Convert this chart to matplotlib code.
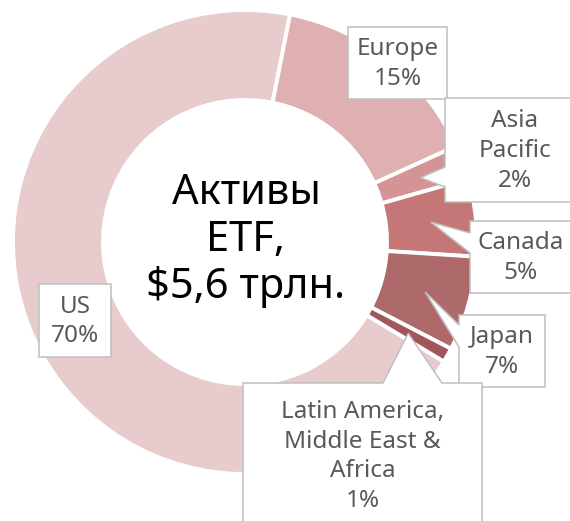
import numpy as np
import matplotlib

matplotlib.use("Agg")
import matplotlib.pyplot as plt
from matplotlib.patches import Polygon

# ETF assets by region (share of total, %)
regions = ["US", "Europe", "Asia\nPacific", "Canada", "Japan",
           "Latin America,\nMiddle East &\nAfrica"]
shares = [69.5, 15.1, 2.4, 5.4, 6.6, 1.0]
colors = ["#E8CBCC", "#DEB0B1", "#D49495", "#C57778", "#AE6A6B", "#A0565A"]
center_text = "Активы\nETF,\n$5,6 трлн."

# layout, in pixels of the 570x521 canvas (y downwards)
W, H = 570, 521
CX, CY = 245, 242
R_OUT, R_IN = 232, 142
R_TIP = 187
# label boxes: (x0, y0, x1, y1), pointer side, pointer base on that side
boxes = [
    ((39, 284, 111, 357), None, None),
    ((348, 27, 447, 99), None, None),
    ((445, 98, 585, 202), "left", (167, 187)),
    ((470, 221, 572, 293), "left", (233, 253)),
    ((459, 315, 545, 387), "left", (325, 347)),
    ((243, 383, 482, 528), "top", (383, 442)),
]

TXT = "#595959"
EDGE = "#BFBFBF"


def callout(box, tip, side, base):
    x0, y0, x1, y1 = box
    pts = [(x0, y0)]
    if side == "top":
        pts += [(base[0], y0), tip, (base[1], y0)]
    pts += [(x1, y0), (x1, y1), (x0, y1)]
    if side == "left":
        pts += [(x0, base[1]), tip, (x0, base[0])]
    return Polygon(pts, closed=True, fc="white", ec=EDGE, lw=1.1, zorder=3)


fig = plt.figure(figsize=(W / 100, H / 100), dpi=100)
ax = fig.add_axes([0, 0, 1, 1])

wedges, _ = ax.pie(shares, colors=colors, center=(CX, CY), radius=R_OUT,
                   startangle=31, counterclock=True,
                   wedgeprops=dict(width=R_OUT - R_IN, edgecolor="white",
                                   linewidth=2.8))
ax.set_aspect("auto")
ax.set_xlim(0, W)
ax.set_ylim(H, 0)
ax.axis("off")

for w, name, share, (box, side, base) in zip(wedges, regions, shares, boxes):
    mid = np.radians((w.theta1 + w.theta2) / 2)
    tip = (CX + R_TIP * np.cos(mid), CY + R_TIP * np.sin(mid))
    ax.add_patch(callout(box, tip, side, base))
    x0, y0, x1, y1 = box
    ax.text((x0 + x1) / 2, (y0 + y1) / 2 + 1, f"{name}\n{share:.0f}%",
            ha="center", va="center", color=TXT, fontsize=17.5,
            family="Noto Sans", linespacing=1.33, zorder=4)

ax.text(CX + 1, CY - 2, center_text, ha="center", va="center", color="black",
        fontsize=30, family="Noto Sans", linespacing=1.17, zorder=4)

fig.savefig("out.png", dpi=100)
